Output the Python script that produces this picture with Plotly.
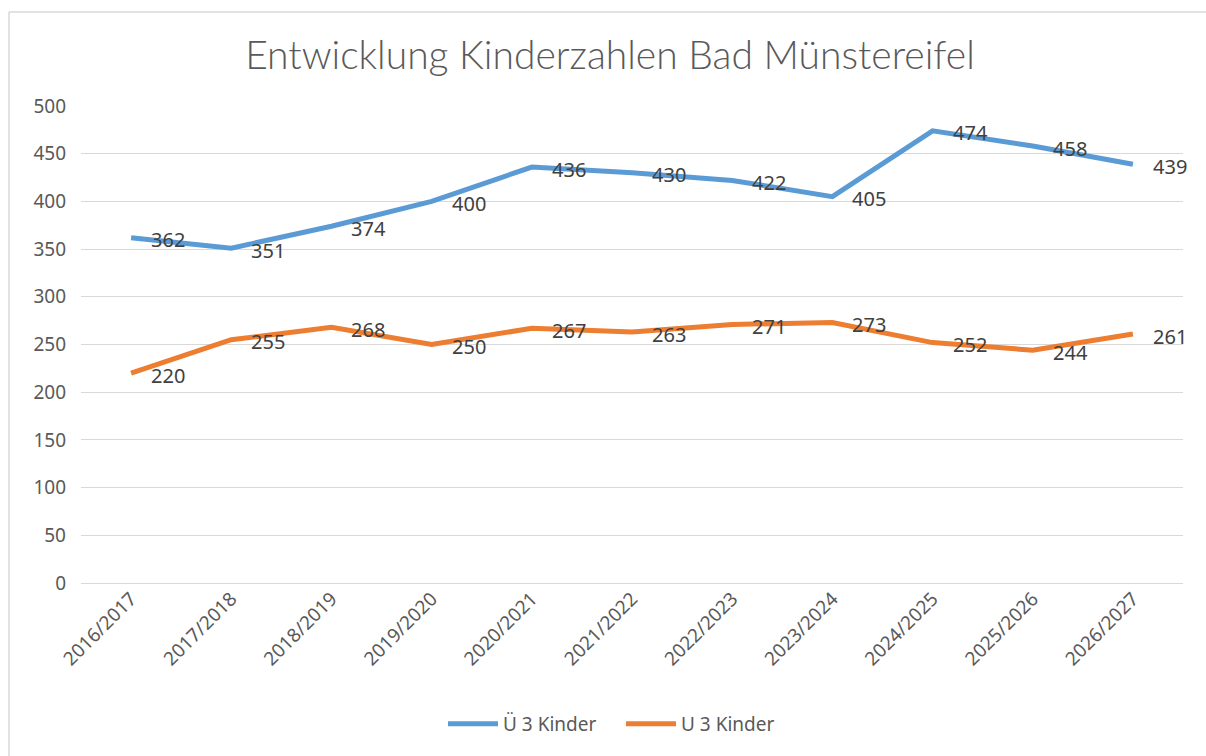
import plotly.graph_objects as go

categories = ["2016/2017", "2017/2018", "2018/2019", "2019/2020", "2020/2021", "2021/2022",
              "2022/2023", "2023/2024", "2024/2025", "2025/2026", "2026/2027"]
ue3_kinder = [362, 351, 374, 400, 436, 430, 422, 405, 474, 458, 439]
u3_kinder = [220, 255, 268, 250, 267, 263, 271, 273, 252, 244, 261]
series_names = ["Ü 3 Kinder", "U 3 Kinder"]
y_ticks = [0, 50, 100, 150, 200, 250, 300, 350, 400, 450, 500]
title_text = "Entwicklung Kinderzahlen Bad Münstereifel"

label_font = dict(family="Noto Sans", size=20, color="#404040")

fig = go.Figure()
fig.add_trace(go.Scatter(
    x=categories, y=ue3_kinder, name=series_names[0], mode="lines",
    line=dict(color="#5B9BD5", width=5),
))
fig.add_trace(go.Scatter(
    x=categories, y=u3_kinder, name=series_names[1], mode="lines",
    line=dict(color="#ED7D31", width=5),
))

annotations = []
for series in (ue3_kinder, u3_kinder):
    for cat, val in zip(categories, series):
        annotations.append(dict(x=cat, y=val, xref="x", yref="y", text=str(val),
                                showarrow=False, xanchor="left", yanchor="middle",
                                xshift=18, yshift=-2, font=label_font))

px = lambda p: (p - 81) / 1102
py = lambda p: (583 - p) / 477
border = dict(color="#d9d9d9", width=1.5)

fig.update_layout(
    width=1206, height=756,
    margin=dict(l=81, r=23, t=106, b=173),
    paper_bgcolor="white", plot_bgcolor="white",
    font=dict(family="Noto Sans", size=19, color="#595959"),
    title=dict(text=title_text, x=610 / 1206, xanchor="center", xref="container",
               y=1 - 55 / 756, yanchor="middle", yref="container",
               font=dict(family="Lato", size=39, color="#595959", weight=300)),
    showlegend=True,
    legend=dict(orientation="h", x=px(443), xanchor="left",
                y=py(724), yanchor="middle",
                font=dict(family="Noto Sans", size=19, color="#595959"),
                entrywidth=113, entrywidthmode="pixels",
                itemwidth=50, tracegroupgap=0),
    xaxis=dict(type="category", range=[-0.5, 10.5], showgrid=False, showline=False,
               zeroline=False, tickangle=-45, ticks="",
               tickfont=dict(family="Noto Sans", size=19, color="#595959")),
    yaxis=dict(range=[0, 500], tickvals=y_ticks, showgrid=True, gridcolor="#d9d9d9",
               gridwidth=1, zeroline=True, zerolinecolor="#d9d9d9", zerolinewidth=1,
               showline=False, ticks="", ticklabelstandoff=14,
               tickfont=dict(family="Noto Sans", size=19, color="#595959")),
    annotations=annotations,
    shapes=[
        dict(type="line", xref="paper", yref="paper", x0=px(9), x1=px(1240),
             y0=py(12), y1=py(12), line=border, layer="below"),
        dict(type="line", xref="paper", yref="paper", x0=px(9), x1=px(9),
             y0=py(12), y1=py(800), line=border, layer="below"),
    ],
)

fig.write_html("out.html", config={"displayModeBar": False},
               post_script="document.body.style.margin='0';document.body.style.overflow='hidden';")
